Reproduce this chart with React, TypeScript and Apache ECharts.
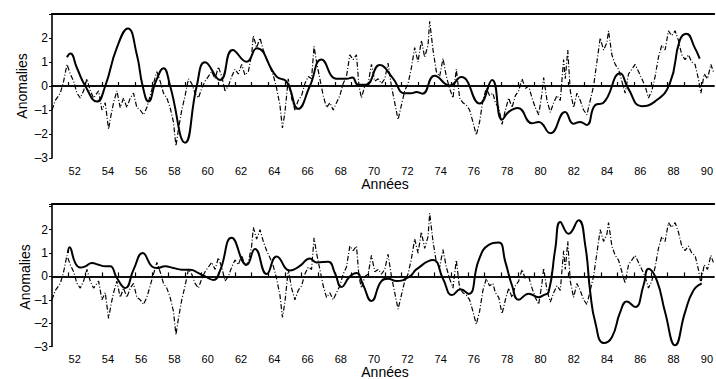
import React, { useEffect, useRef } from "react";
import * as echarts from "echarts";

// Années (x) and anomalies (y)
const dashDot: [number, number][] = [
  [51.0, -1.0], [51.2, -0.6], [51.5, -0.3], [51.7, 0.2], [51.9, 0.9], [52.1, 0.5], [52.3, 0.2],
  [52.5, -0.3], [52.7, -0.5], [52.9, -0.2], [53.1, 0.3], [53.3, -0.2], [53.5, -0.5], [53.8, -0.2],
  [54.0, -1.0], [54.2, -0.7], [54.4, -1.8], [54.55, -1.2], [54.7, -0.7], [54.9, -0.2], [55.1, -0.9],
  [55.3, -0.5], [55.5, -0.9], [55.7, -0.5], [55.9, -0.3], [56.1, -0.9], [56.3, -1.0], [56.5, -1.2],
  [56.7, -0.9], [56.9, -0.4], [57.1, 0.1], [57.3, 0.6], [57.5, 0.2], [57.7, -0.3], [57.9, -0.5],
  [58.1, -0.9], [58.3, -1.5], [58.45, -2.5], [58.6, -1.8], [58.8, -1.0], [59.0, -0.4], [59.2, 0.3],
  [59.4, 0.1], [59.6, -0.3], [59.8, -0.5], [60.0, -0.1], [60.2, 0.2], [60.4, 0.4], [60.6, 0.6],
  [60.8, 0.3], [61.0, 0.8], [61.2, 0.4], [61.4, -0.2], [61.6, 0.0], [61.8, 0.4], [62.0, 0.7],
  [62.2, 0.5], [62.4, 0.9], [62.6, 0.45], [62.8, 0.6], [63.0, 1.3], [63.1, 2.1], [63.3, 1.6],
  [63.5, 2.0], [63.7, 1.5], [63.9, 1.1], [64.1, 0.8], [64.3, 0.45], [64.5, -0.1], [64.7, -0.8],
  [64.85, -1.75], [65.0, -1.1], [65.2, 0.3], [65.4, -0.5], [65.6, -1.0], [65.8, -0.6], [66.0, -0.4],
  [66.2, 0.1], [66.4, 0.4], [66.6, 0.3], [66.75, 1.65], [66.9, 1.0], [67.1, 0.3], [67.3, -0.4],
  [67.5, -0.9], [67.7, -0.7], [67.9, -1.0], [68.1, -0.7], [68.3, -0.4], [68.5, 0.1], [68.7, 0.4],
  [68.9, 1.3], [69.1, 1.1], [69.3, 1.3], [69.45, 0.0], [69.6, -0.5], [69.8, 0.0], [70.0, 0.1],
  [70.2, 0.9], [70.4, 0.2], [70.6, 0.3], [70.8, 0.1], [71.0, 0.3], [71.2, 0.95], [71.4, 0.0],
  [71.6, -0.7], [71.8, -1.4], [72.0, -0.8], [72.2, -0.2], [72.4, 0.1], [72.6, 0.75], [72.8, 1.6],
  [73.0, 1.0], [73.2, 1.9], [73.4, 1.2], [73.6, 1.7], [73.7, 2.7], [73.9, 1.5], [74.1, 0.6],
  [74.3, 0.4], [74.5, 1.15], [74.7, 0.4], [74.9, -0.1], [75.1, -0.5], [75.3, 0.7], [75.5, -0.5],
  [75.7, -0.7], [75.9, -0.8], [76.1, -1.0], [76.3, -1.5], [76.5, -2.05], [76.7, -1.5], [76.9, -0.6],
  [77.1, -0.1], [77.3, -0.4], [77.5, -0.3], [77.65, -0.7], [77.85, -0.9], [78.05, -1.6], [78.25, -1.0],
  [78.45, -0.5], [78.65, -0.9], [78.85, -0.4], [79.05, -0.2], [79.25, 0.3], [79.45, -0.1], [79.65, 0.0],
  [79.85, -0.5], [80.05, -0.9], [80.25, -1.2], [80.45, -0.3], [80.55, 0.35], [80.75, -0.6], [80.95, -1.1],
  [81.15, -0.7], [81.35, -0.4], [81.55, -0.6], [81.75, 1.1], [81.85, 0.3], [82.0, 1.5], [82.15, -0.2],
  [82.35, -0.9], [82.55, -0.3], [82.75, -0.6], [82.95, -1.0], [83.15, -1.2], [83.35, -0.6], [83.55, 0.0],
  [83.75, 1.0], [83.95, 2.0], [84.15, 1.5], [84.35, 1.8], [84.45, 2.3], [84.65, 1.3], [84.85, 0.9],
  [85.05, 0.7], [85.25, 0.2], [85.45, -0.3], [85.65, 0.5], [85.85, 0.7], [86.05, 0.9], [86.25, 0.6],
  [86.45, 0.3], [86.65, 0.0], [86.85, -0.5], [87.05, -0.2], [87.25, 0.4], [87.45, 1.2], [87.65, 1.7],
  [87.85, 1.5], [88.05, 2.3], [88.25, 2.1], [88.45, 2.3], [88.65, 1.9], [88.85, 1.3], [89.05, 1.1],
  [89.25, 1.3], [89.45, 1.0], [89.65, 0.9], [89.85, 0.3], [90.0, -0.3], [90.2, 0.5], [90.4, 0.3],
  [90.6, 0.9], [90.75, 0.6],
];

const solidTop: [number, number][] = [
  [51.9, 1.2], [52.1, 1.35], [52.5, 0.75], [53.0, 0.0], [53.7, -0.65], [54.2, 0.0], [54.9, 1.6],
  [55.56, 2.4], [56.1, 1.3], [56.45, 0.0], [56.8, -0.65], [57.25, 0.2], [57.7, 0.74], [58.1, 0.0],
  [59.0, -2.36], [59.7, 0.0], [60.2, 0.99], [61.1, 0.25], [61.86, 1.5], [62.7, 1.01], [63.3, 1.57],
  [64.5, 0.39], [65.1, 0.18], [65.8, -0.95], [66.5, 0.0], [67.2, 1.1], [68.1, 0.3], [68.7, 0.3],
  [69.05, 0.35], [69.4, 0.05], [69.86, 0.05], [70.7, 0.87], [71.46, 0.35], [72.2, -0.3], [72.6, -0.3],
  [72.9, -0.25], [73.26, -0.32], [74.0, 0.43], [74.9, 0.02], [75.6, 0.37], [76.7, -0.73], [77.45, 0.25],
  [78.05, -1.4], [78.45, -1.08], [79.0, -0.92], [79.85, -1.55], [80.25, -1.5], [80.95, -1.97],
  [81.84, -1.08], [82.34, -1.57], [82.74, -1.5], [83.14, -1.62], [83.64, -0.8], [84.14, -0.7],
  [85.15, 0.53], [85.63, -0.1], [86.43, -0.84], [87.23, -0.65], [88.13, 0.1], [88.73, 1.9],
  [89.13, 2.18], [89.63, 1.6], [89.93, 1.14],
];

const solidBottom: [number, number][] = [
  [51.95, 1.0], [52.05, 1.25], [52.4, 0.57], [52.7, 0.38], [53.0, 0.43], [53.4, 0.57], [53.8, 0.5],
  [54.2, 0.43], [54.5, 0.43], [54.9, -0.07], [55.4, -0.5], [55.9, 0.29], [56.45, 1.0], [57.0, 0.43],
  [57.3, 0.36], [57.8, 0.43], [58.3, 0.36], [58.8, 0.29], [59.3, 0.29], [59.8, 0.14], [60.2, 0.0],
  [60.7, -0.15], [61.1, 0.25], [61.8, 1.65], [62.7, 0.5], [63.2, 1.17], [63.9, 0.1], [64.5, 0.85],
  [65.3, 0.25], [65.9, 0.45], [66.5, 0.77], [66.9, 0.6], [67.6, 0.63], [68.0, 0.15], [68.4, -0.45],
  [68.9, 0.0], [69.3, 0.15], [69.7, -0.37], [70.2, -1.05], [70.8, -0.2], [71.2, -0.1], [71.7, -0.2],
  [72.5, 0.0], [72.9, 0.3], [73.9, 0.7], [74.5, -0.1], [75.05, -0.8], [75.55, -0.55], [76.05, -0.75],
  [76.65, 0.7], [77.25, 1.35], [77.85, 1.45], [78.25, 0.61], [78.65, -0.39], [79.05, -1.0],
  [79.65, -0.74], [80.25, -0.89], [80.55, -0.8], [80.85, -0.67], [81.25, 1.19], [81.55, 2.33],
  [82.05, 1.83], [82.65, 2.4], [83.05, 1.33], [83.35, -0.67], [83.65, -1.96], [84.15, -2.85],
  [84.65, -2.6], [85.15, -1.53], [85.55, -1.07], [86.05, -1.31], [86.55, -0.39], [86.85, 0.33],
  [87.35, -0.17], [87.85, -1.53], [88.45, -2.95], [89.05, -1.53], [89.55, -0.6], [90.05, -0.31],
];

const yTickLabels = [-3, -2, -1, 0, 1, 2];
const xTitle = "Années";
const yTitle = "Anomalies";

const FONT = "Liberation Sans, Arial, sans-serif";

export default function App() {
  const ref = useRef<HTMLDivElement>(null);
  useEffect(() => {
    if (!ref.current) return;
    const chart = echarts.init(ref.current, undefined, { renderer: "svg" });
    const axisLine = { show: true, lineStyle: { color: "#000", width: 1.6 } };
    const mkX = (gi: number) => ({
      type: "value",
      gridIndex: gi,
      min: 51,
      max: 90.8,
      interval: 1,
      axisLine,
      axisTick: { show: true, inside: true, length: 4, lineStyle: { color: "#000", width: 1.2 } },
      axisLabel: {
        color: "#000",
        fontFamily: FONT,
        fontSize: 11,
        margin: 7,
        padding: [0, 0, 0, 12],
        showMinLabel: false,
        showMaxLabel: false,
        formatter: (v: number) => (Number.isInteger(v) && v % 2 === 0 ? String(v) : ""),
      },
      splitLine: { show: false },
    });
    const mkTop = (gi: number) => ({
      type: "value",
      gridIndex: gi,
      position: "top",
      min: 51,
      max: 90.8,
      axisLine: { show: true, lineStyle: { color: "#000", width: 2 } },
      axisTick: { show: false },
      axisLabel: { show: false },
      splitLine: { show: false },
    });
    const mkY = (gi: number, max: number) => ({
      type: "value",
      gridIndex: gi,
      min: -3,
      max,
      interval: 1,
      axisLine: { show: true, lineStyle: { color: "#000", width: 1.6 } },
      axisTick: { show: true, length: 3, lineStyle: { color: "#000" } },
      axisLabel: {
        color: "#000",
        fontFamily: FONT,
        fontSize: 12,
        margin: 4,
        formatter: (v: number) =>
          yTickLabels.includes(v) ? String(v).replace("-", "\u2013") : "",
      },
      splitLine: { show: false },
    });
    const dashStyle = { color: "#000", width: 1.2, type: [5, 2, 1, 2] as number[] };
    const zeroLine = {
      silent: true,
      symbol: "none",
      label: { show: false },
      lineStyle: { color: "#000", width: 1.5, type: "solid" },
      data: [{ yAxis: 0 }],
    };
    chart.setOption({
      animation: false,
      backgroundColor: "#fff",
      grid: [
        { left: 52, right: 0, top: 14, height: 144 },
        { left: 52, right: 0, top: 204, height: 142.5 },
      ],
      xAxis: [mkX(0), mkX(1), mkTop(0), mkTop(1)],
      yAxis: [mkY(0, 3), mkY(1, 3.1)],
      series: [
        {
          type: "line", xAxisIndex: 0, yAxisIndex: 0, data: dashDot, showSymbol: false,
          lineStyle: dashStyle, markLine: zeroLine, z: 2,
        },
        {
          type: "line", xAxisIndex: 0, yAxisIndex: 0, data: solidTop, showSymbol: false, smooth: 0.5,
          lineStyle: { color: "#000", width: 2 }, z: 3,
        },
        {
          type: "line", xAxisIndex: 1, yAxisIndex: 1, data: dashDot, showSymbol: false,
          lineStyle: dashStyle, markLine: zeroLine, z: 2,
        },
        {
          type: "line", xAxisIndex: 1, yAxisIndex: 1, data: solidBottom, showSymbol: false, smooth: 0.5,
          lineStyle: { color: "#000", width: 2 }, z: 3,
        },
      ],
      graphic: [
        { type: "text", x: 385, y: 184, style: { text: xTitle, font: `14px ${FONT}`, fill: "#000", align: "center", verticalAlign: "middle" } },
        { type: "text", x: 385, y: 372, style: { text: xTitle, font: `14px ${FONT}`, fill: "#000", align: "center", verticalAlign: "middle" } },
        { type: "text", x: 22, y: 86, rotation: Math.PI / 2, style: { text: yTitle, font: `14px ${FONT}`, fill: "#000", align: "center", verticalAlign: "middle" } },
        { type: "text", x: 25, y: 277, rotation: Math.PI / 2, style: { text: yTitle, font: `14px ${FONT}`, fill: "#000", align: "center", verticalAlign: "middle" } },
      ],
    });
    return () => chart.dispose();
  }, []);
  return (
    <div
      ref={ref}
      style={{ position: "absolute", left: 0, top: 0, width: 716, height: 379 }}
    />
  );
}
